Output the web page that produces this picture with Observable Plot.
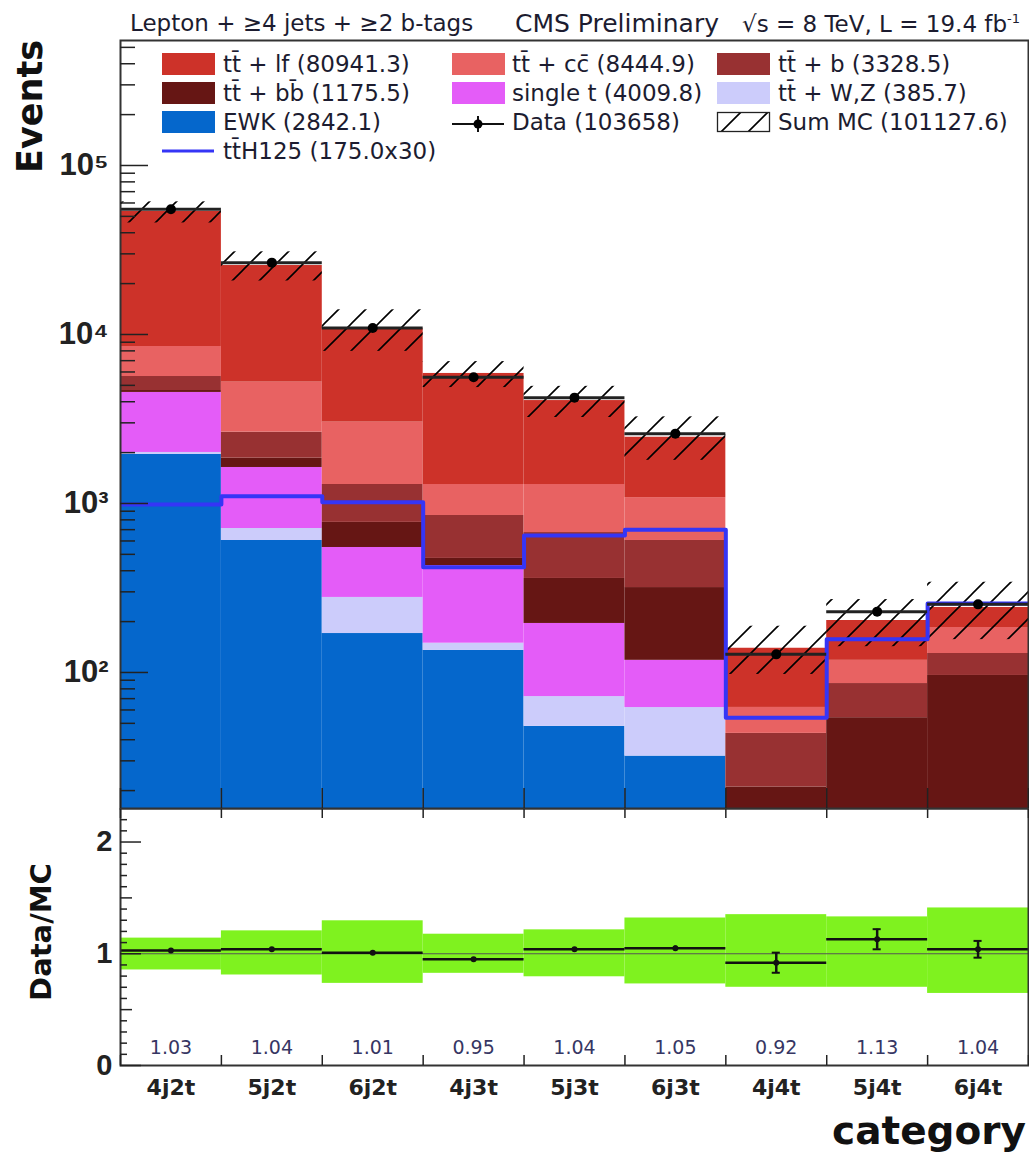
<!DOCTYPE html>
<html><head><meta charset="utf-8">
<script src="https://cdn.jsdelivr.net/npm/d3@7"></script>
<script src="https://cdn.jsdelivr.net/npm/@observablehq/plot@0.6"></script>
<style>
body{margin:0;background:#fff;}
#wrap{position:relative;width:1029px;height:1160px;overflow:hidden;font-family:"DejaVu Sans",sans-serif;color:#1c1c30;}
.abs{position:absolute;white-space:nowrap;line-height:1;}
#wrap svg.plot{position:absolute;left:0;}
</style></head><body>
<svg width="0" height="0" style="position:absolute">
<defs>
<pattern id="hatch" patternUnits="userSpaceOnUse" width="27" height="27">
<path d="M-4,4 L4,-4 M0,27 L27,0 M23,31 L31,23" stroke="#000" stroke-width="1.6" fill="none"/>
</pattern>
</defs></svg>
<div id="wrap"></div>
<script>
// ---------------- data ----------------
const categories = ["4j2t","5j2t","6j2t","4j3t","5j3t","6j3t","4j4t","5j4t","6j4t"];
const ewk     = [1950, 604, 170, 135, 48, 32, 4, 2, 1];
const ttwz    = [54, 107, 108, 14, 24, 30, 2, 3, 4];
const singleT = [2536, 922, 271, 280, 123, 56, 3, 2, 2];
const ttbb    = [120, 221, 224, 44, 165, 200, 12, 47, 89];
const ttb     = [980, 788, 522, 376, 313, 286, 22.6, 32, 33.5];
const ttcc    = [2850, 2584, 1735, 446, 622, 479, 18.5, 32, 55];
const ttlf    = [44960, 20364, 7780, 4585, 2769, 1383, 77, 85, 58];
const tth     = [986, 1105, 1018, 420, 647, 699, 54, 157, 256];
const dataCounts = [55050, 26610, 10920, 5590, 4230, 2590, 128, 229, 253];
const ratio    = [1.03, 1.04, 1.01, 0.95, 1.04, 1.05, 0.92, 1.13, 1.04];
const ratioErr = [0.005, 0.007, 0.01, 0.014, 0.016, 0.02, 0.09, 0.09, 0.075];
const bandUp   = [0.14, 0.205, 0.295, 0.175, 0.214, 0.32, 0.35, 0.33, 0.41];
const bandDn   = [0.145, 0.19, 0.265, 0.175, 0.206, 0.27, 0.30, 0.30, 0.355];
const yTicksMajor = [1e2, 1e3, 1e4, 1e5];
const ratioTicksMajor = [0, 1, 2];
const legendLabels = {
  ttlf: "tt̄ + lf (80941.3)", ttbb: "tt̄ + bb̄ (1175.5)", ewk: "EWK (2842.1)", tth: "tt̄H125 (175.0x30)",
  ttcc: "tt̄ + cc̄ (8444.9)", singleT: "single t (4009.8)", data: "Data (103658)",
  ttb: "tt̄ + b (3328.5)", ttwz: "tt̄ + W,Z (385.7)", sum: "Sum MC (101127.6)"
};

const colors = {
  ewk: "#0567cc", ttwz: "#ccccfb", singleT: "#e45cf8", ttbb: "#661614",
  ttb: "#983132", ttcc: "#e86262", ttlf: "#cd3229", tth: "#3535f6", band: "#7ff21f"
};
const series = [
  {key: "ewk", values: ewk}, {key: "ttwz", values: ttwz}, {key: "singleT", values: singleT},
  {key: "ttbb", values: ttbb}, {key: "ttb", values: ttb}, {key: "ttcc", values: ttcc}, {key: "ttlf", values: ttlf}
];

const Y_MIN = 15.67, Y_MAX = 5.49e5;
const FLOOR = Y_MIN / 3;

// ---------------- derived rows ----------------
const stackRows = [];
const mcTotal = [];
categories.forEach((c, i) => {
  let cum = 0;
  for (const s of series) {
    const lo = cum; cum += s.values[i];
    stackRows.push({x1: i, x2: i + 1, y1: Math.max(lo, FLOOR), y2: Math.max(cum, FLOOR), fill: colors[s.key]});
  }
  mcTotal.push(cum);
});
const binRows = categories.map((c, i) => ({
  cat: c, x1: i, x2: i + 1, xc: i + 0.5,
  mc: mcTotal[i], data: dataCounts[i],
  ratio: ratio[i], err: ratioErr[i], up: bandUp[i], dn: bandDn[i]
}));
const tthPts = [];
tth.forEach((v, i) => { tthPts.push({x: i, y: v}); tthPts.push({x: i + 1, y: v}); });
const edges = d3.range(0, categories.length + 1);
const centers = categories.map((c, i) => i + 0.5);
const minorY = [];
for (let e = 1; e <= 5; e++) for (let m = 2; m <= 9; m++) { const v = m * 10 ** e; if (v > Y_MIN && v < Y_MAX) minorY.push(v); }
const ratioMinor = d3.range(1, 23).map(k => k / 10).filter(v => Math.abs(v - Math.round(v)) > 1e-9 && Math.abs(v - 0.5) > 1e-9 && Math.abs(v - 1.5) > 1e-9);
const ratioMid = [0.5, 1.5];
const sup = {"0":"⁰","1":"¹","2":"²","3":"³","4":"⁴","5":"⁵","6":"⁶"};
const blank = () => "";

const axisColor = "#222";
// ---------------- upper panel ----------------
const upper = Plot.plot({
  width: 1029, height: 810,
  marginLeft: 120, marginRight: 1, marginTop: 40, marginBottom: 2,
  x: {type: "linear", domain: [0, categories.length], axis: null, label: null},
  y: {type: "log", domain: [Y_MIN, Y_MAX], axis: null, label: null},
  color: {type: "identity"},
  style: {fontFamily: "Liberation Sans, Arial, sans-serif", fontSize: "31px", fontWeight: "bold", color: axisColor, background: "transparent"},
  marks: [
    Plot.rect(stackRows, {x1: "x1", x2: "x2", y1: "y1", y2: "y2", fill: "fill", clip: true}),
    Plot.rect(binRows, {x1: "x1", x2: "x2", y1: d => d.mc * (1 - d.dn), y2: d => d.mc * (1 + d.up), fill: "url(#hatch)", clip: true}),
    Plot.line(tthPts, {x: "x", y: "y", stroke: colors.tth, strokeWidth: 4, clip: true}),
    Plot.ruleY(binRows, {x1: "x1", x2: "x2", y: "data", stroke: "#222", strokeWidth: 3}),
    Plot.dot(binRows, {x: "xc", y: "data", r: 5, fill: "#000", stroke: "none"}),
    Plot.frame({stroke: "#333", strokeWidth: 2}),
    Plot.axisY({ticks: yTicksMajor, tickSize: -28, tickFormat: blank, strokeWidth: 1.5}),
    Plot.axisY({ticks: minorY, tickSize: -15, tickFormat: blank, strokeWidth: 1.5}),
    Plot.axisY({ticks: yTicksMajor, tickSize: 0, tickPadding: 12, tickFormat: d => "10" + sup[String(Math.round(Math.log10(d)))]}),
    Plot.axisX({ticks: edges, tickSize: -20, tickFormat: blank, strokeWidth: 1.5})
  ]
});
upper.classList.add("plot");
upper.style.top = "0px";

// ---------------- lower panel ----------------
const lower = Plot.plot({
  width: 1029, height: 352,
  marginLeft: 120, marginRight: 1, marginTop: 0, marginBottom: 95,
  x: {type: "linear", domain: [0, categories.length], axis: null, label: null},
  y: {domain: [0, 2.3], axis: null, label: null},
  style: {fontFamily: "Liberation Sans, Arial, sans-serif", fontSize: "29px", fontWeight: "bold", color: axisColor, background: "transparent"},
  marks: [
    Plot.rect(binRows, {x1: "x1", x2: "x2", y1: d => 1 - d.dn, y2: d => 1 + d.up, fill: colors.band}),
    Plot.ruleY([1], {stroke: "#555", strokeWidth: 1}),
    Plot.ruleY(binRows, {x1: "x1", x2: "x2", y: "ratio", stroke: "#111", strokeWidth: 2.5}),
    Plot.ruleX(binRows, {x: "xc", y1: d => d.ratio - d.err, y2: d => d.ratio + d.err, stroke: "#111", strokeWidth: 2.5}),
    Plot.ruleY(binRows, {x1: d => d.xc - 0.04, x2: d => d.xc + 0.04, y: d => d.ratio + d.err, stroke: "#111", strokeWidth: 2, filter: d => d.err > 0.03}),
    Plot.ruleY(binRows, {x1: d => d.xc - 0.04, x2: d => d.xc + 0.04, y: d => d.ratio - d.err, stroke: "#111", strokeWidth: 2, filter: d => d.err > 0.03}),
    Plot.dot(binRows, {x: "xc", y: "ratio", r: 3, fill: "#111", stroke: "none"}),
    Plot.text(binRows, {x: "xc", frameAnchor: "bottom", dy: -18, text: d => d.ratio.toFixed(2), fill: "#363663", fontSize: 19, fontWeight: "normal", fontFamily: "DejaVu Sans", lineAnchor: "middle"}),
    Plot.frame({stroke: "#333", strokeWidth: 2}),
    Plot.axisY({ticks: ratioTicksMajor, tickSize: -21, tickFormat: blank, strokeWidth: 1.5}),
    Plot.axisY({ticks: ratioMid, tickSize: -12, tickFormat: blank, strokeWidth: 1.5}),
    Plot.axisY({ticks: ratioMinor, tickSize: -7, tickFormat: blank, strokeWidth: 1.5}),
    Plot.axisY({ticks: ratioTicksMajor, tickSize: 0, tickPadding: 8, tickFormat: d => String(d)}),
    Plot.axisX({ticks: edges, tickSize: -10, tickFormat: blank, strokeWidth: 1.5}),
    Plot.axisX({anchor: "top", ticks: edges, tickSize: -9, tickFormat: blank, strokeWidth: 1.5}),
    Plot.axisX({ticks: centers, tickSize: 0, tickPadding: 14, tickFormat: d => categories[Math.floor(d)], fontFamily: "DejaVu Sans", fontSize: 22, fontWeight: "bold"})
  ]
});
lower.classList.add("plot");
lower.style.top = "808px";

const wrap = document.getElementById("wrap");
wrap.appendChild(upper);
wrap.appendChild(lower);

// ---------------- texts & legend ----------------
function addText(txt, left, top, size, opts = {}) {
  const d = document.createElement("div");
  d.className = "abs";
  d.innerHTML = txt;
  d.style.left = left + "px";
  d.style.top = top + "px";
  d.style.fontSize = size + "px";
  Object.assign(d.style, opts);
  wrap.appendChild(d);
  return d;
}
addText("Lepton + ≥4 jets + ≥2 b-tags", 130, 12, 23);
addText("CMS Preliminary", 515, 11, 25);
addText("√s = 8 TeV, L = 19.4 fb<sup style='font-size:13px;vertical-align:9px'>-1</sup>", 742, 12, 23);

// Events (rotated)
const ev = document.createElement("div");
ev.className = "abs";
ev.style.cssText = "position:absolute;left:30px;top:40px;width:0;height:0;";
ev.innerHTML = "<span style='position:absolute;right:0;top:-17px;font:bold 35px \"DejaVu Sans\";line-height:1;white-space:nowrap;transform-origin:100% 17px;transform:rotate(-90deg);color:#111'>Events</span>";
wrap.appendChild(ev);
const dm = document.createElement("div");
dm.style.cssText = "position:absolute;left:41px;top:932px;width:0;height:0;";
dm.innerHTML = "<span style='position:absolute;left:0;top:0;font:bold 29px \"DejaVu Sans\";line-height:1;white-space:nowrap;transform:translate(-50%,-50%) rotate(-90deg);color:#111'>Data/MC</span>";
wrap.appendChild(dm);
const cat = addText("category", 0, 1111, 39, {fontWeight: "bold", color: "#111", left: "auto", right: "3px"});

// legend
const rowsY = [64, 93, 122, 151];
const cols = [{sx: 162, tx: 223}, {sx: 452, tx: 512}, {sx: 717, tx: 778}];
const legendItems = [
  {col: 0, row: 0, key: "ttlf", type: "box"}, {col: 0, row: 1, key: "ttbb", type: "box"},
  {col: 0, row: 2, key: "ewk", type: "box"}, {col: 0, row: 3, key: "tth", type: "line"},
  {col: 1, row: 0, key: "ttcc", type: "box"}, {col: 1, row: 1, key: "singleT", type: "box"},
  {col: 1, row: 2, key: "data", type: "data"},
  {col: 2, row: 0, key: "ttb", type: "box"}, {col: 2, row: 1, key: "ttwz", type: "box"},
  {col: 2, row: 2, key: "sum", type: "hatch"}
];
const LFS = 23;
for (const it of legendItems) {
  const cx = cols[it.col], cy = rowsY[it.row];
  const s = document.createElementNS("http://www.w3.org/2000/svg", "svg");
  s.setAttribute("width", 54); s.setAttribute("height", 26);
  s.style.cssText = `position:absolute;left:${cx.sx}px;top:${cy - 13}px;overflow:visible`;
  if (it.type === "box") s.innerHTML = `<rect x="0" y="2" width="53" height="22" fill="${colors[it.key]}"/>`;
  else if (it.type === "line") s.innerHTML = `<line x1="0" x2="52" y1="13" y2="13" stroke="${colors.tth}" stroke-width="3"/>`;
  else if (it.type === "data") s.innerHTML = `<line x1="0" x2="52" y1="15" y2="15" stroke="#111" stroke-width="2"/><line x1="26" x2="26" y1="7" y2="23" stroke="#111" stroke-width="2"/><circle cx="26" cy="15" r="4.5" fill="#000"/>`;
  else s.innerHTML = `<rect x="0.5" y="3.5" width="52" height="19" fill="url(#hatch)" stroke="#222" stroke-width="1.3"/>`;
  wrap.appendChild(s);
  addText(legendLabels[it.key], cx.tx, cy - 0.48 * LFS, LFS);
}
</script>
</body></html>
